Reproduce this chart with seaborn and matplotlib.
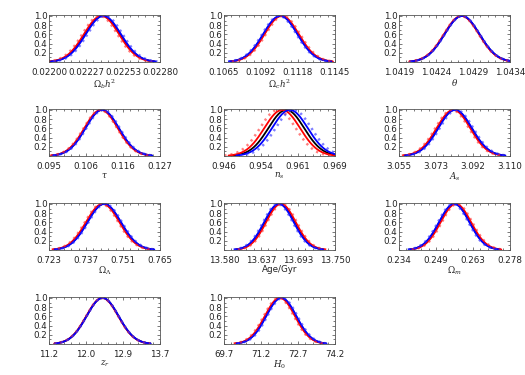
import numpy as np
import pandas as pd
import matplotlib
matplotlib.use("Agg")
import matplotlib.pyplot as plt
import seaborn as sns
from matplotlib.ticker import AutoMinorLocator

# ---------------- data ----------------
labels = [r"$\Omega_b h^2$", r"$\Omega_c h^2$", r"$\theta$", r"$\tau$", r"$n_s$",
          r"$A_s$", r"$\Omega_\Lambda$", "Age/Gyr", r"$\Omega_m$", r"$z_r$", r"$H_0$"]
x_min = [0.02200, 0.1065, 1.0419, 0.095, 0.946, 3.055, 0.723, 13.580, 0.234, 11.2, 69.7]
x_max = [0.02280, 0.1145, 1.0434, 0.127, 0.969, 3.110, 0.765, 13.750, 0.278, 13.7, 74.2]
tick_labels = [
    ["0.02200", "0.02227", "0.02253", "0.02280"],
    ["0.1065", "0.1092", "0.1118", "0.1145"],
    ["1.0419", "1.0424", "1.0429", "1.0434"],
    ["0.095", "0.106", "0.116", "0.127"],
    ["0.946", "0.954", "0.961", "0.969"],
    ["3.055", "3.073", "3.092", "3.110"],
    ["0.723", "0.737", "0.751", "0.765"],
    ["13.580", "13.637", "13.693", "13.750"],
    ["0.234", "0.249", "0.263", "0.278"],
    ["11.2", "12.0", "12.9", "13.7"],
    ["69.7", "71.2", "72.7", "74.2"],
]
mean = [0.022386, 0.1106, 1.04275, 0.1102, 0.9589, 3.0825, 0.7437, 13.6655, 0.2561, 12.405, 72.0]
sigma = [0.000126, 0.00123, 0.000235, 0.0048, 0.0037, 0.0083, 0.0063, 0.0226, 0.0060, 0.36, 0.61]
red_shift = [-0.000008, 0.00006, -0.000006, -0.0002, -0.00085, -0.00055, -0.0004, 0.0017, 0.00045, -0.005, -0.035]
red_dot_shift = [-0.000020, 0.00015, -0.00001, -0.0004, -0.00175, -0.0012, -0.0008, 0.0034, 0.0009, -0.008, -0.08]
blue_shift = [0.000006, -0.00005, 0.000003, 0.00016, 0.00075, 0.00035, 0.00025, -0.0014, -0.00026, 0.003, 0.027]
blue_dot_shift = [0.000018, -0.00012, 0.000006, 0.0004, 0.0015, 0.001, 0.0006, -0.003, -0.00066, 0.005, 0.068]
y_ticks = [0.2, 0.4, 0.6, 0.8, 1.0]

curve_order = ["black", "red", "blue", "red_dot", "blue_dot"]
palette = {"black": "#000000", "red": "#ff0000", "blue": "#0000ff",
           "red_dot": "#ff2a2a", "blue_dot": "#2a2aff"}
dashes = {"black": "", "red": "", "blue": "", "red_dot": (0.9, 1.6), "blue_dot": (0.9, 1.6)}

# ---------------- style ----------------
sns.set_theme(style="ticks")
plt.rcParams["font.family"] = ["DejaVu Sans"]
plt.rcParams["mathtext.fontset"] = "dejavuserif"

W, H = 525, 375
fig = plt.figure(figsize=(W / 100, H / 100), dpi=100)
col_left = [49, 224, 399]
row_top = [15, 109, 203, 297]
aw, ah = 111, 47

for i in range(len(labels)):
    r, c = divmod(i, 3)
    ax = fig.add_axes([col_left[c] / W, 1 - (row_top[r] + ah) / H, aw / W, ah / H])
    centers = {
        "black": mean[i],
        "red": mean[i] + red_shift[i],
        "blue": mean[i] + blue_shift[i],
        "red_dot": mean[i] + red_dot_shift[i],
        "blue_dot": mean[i] + blue_dot_shift[i],
    }
    frames = []
    for name in curve_order:
        mu = centers[name]
        xs = np.linspace(mu - 3 * sigma[i], mu + 3 * sigma[i], 200)
        ys = np.exp(-0.5 * ((xs - mu) / sigma[i]) ** 2)
        frames.append(pd.DataFrame({"x": xs, "y": ys, "curve": name}))
    df = pd.concat(frames, ignore_index=True)
    sns.lineplot(data=df, x="x", y="y", hue="curve", style="curve",
                 hue_order=curve_order, style_order=curve_order,
                 palette=palette, dashes=dashes, linewidth=1.3,
                 estimator=None, sort=False, legend=False, ax=ax)
    for ln in ax.lines:
        if ln.get_linestyle() not in ("-", "solid"):
            ln.set_alpha(0.6)
            ln.set_linewidth(1.8)

    ax.set_xlim(x_min[i], x_max[i])
    ax.set_ylim(0, 1.02)
    ax.set_xticks(np.linspace(x_min[i], x_max[i], 4))
    ax.set_xticklabels(tick_labels[i])
    ax.set_yticks(y_ticks)
    ax.set_yticklabels([f"{v:.1f}" for v in y_ticks])
    ax.xaxis.set_minor_locator(AutoMinorLocator(5))
    ax.yaxis.set_minor_locator(AutoMinorLocator(2))
    ax.tick_params(which="both", direction="in", top=True, right=True,
                   colors="#444444", labelcolor="#222222", labelsize=6.3, width=0.5)
    ax.tick_params(which="major", length=2.5)
    ax.tick_params(which="minor", length=1.2)
    ax.tick_params(axis="x", pad=4)
    ax.tick_params(axis="y", pad=1)
    for sp in ax.spines.values():
        sp.set_linewidth(0.6)
        sp.set_color("#555555")
    ax.set_xlabel(labels[i], fontsize=6.3, labelpad=0.3, color="#222222")
    ax.set_ylabel("")
    ax.set_facecolor("white")

fig.savefig("out.png", dpi=100, facecolor="white")
